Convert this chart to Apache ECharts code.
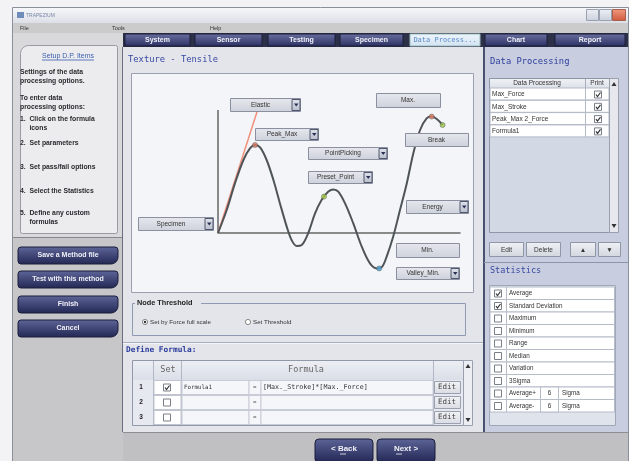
<!DOCTYPE html>
<html>
<head>
<meta charset="utf-8">
<title>Texture - Tensile</title>
<script src="https://cdn.jsdelivr.net/npm/echarts@6/dist/echarts.min.js"></script>
<style>
html, body { margin: 0; padding: 0; background: #f3f3f5; }
#main { width: 629px; height: 461px; }
</style>
</head>
<body>
<div id="main"></div>
<script>
// 曲线数据
var curveX = [0, 3.6, 7.0, 10.5, 13.2, 15.3, 17.4, 20.1, 22.9, 25.6, 28.4, 30.4, 32.5, 34.6, 37.3, 40.1, 42.8, 45.6, 47.7, 49.7, 52.5, 55.9, 59.4, 62.8, 65.6, 67.6, 69.7, 72.4, 75.2, 78.0, 80.7, 83.5, 86.2, 88.3, 90.4, 92.8];
var curveY = [0, 11.5, 24.8, 36.5, 42.3, 44.0, 42.8, 36.5, 26.5, 14.8, 3.2, -3.5, -6.5, -6.0, 0, 9.8, 16.5, 20.7, 21.8, 20.7, 14.8, 4.8, -6.8, -15.2, -17.7, -17.2, -11.8, -1.8, 11.5, 24.8, 39.8, 51.5, 57.3, 58.2, 57.0, 54.0];
var elasticX = [0, 16.1];
var elasticY = [0, 60.5];
var axisTop = 61.5;
var markX = [15.3, 43.8, 66.6, 88.3, 92.8];
var markY = [44.0, 18.2, -17.7, 58.2, 54.0];
var markKind = ['peak', 'pick', 'valley', 'peak', 'break'];

// texts
var tabLabels = ['System', 'Sensor', 'Testing', 'Specimen', 'Data Process...', 'Chart', 'Report'];
var menuLabels = ['File', 'Tools', 'Help'];
var chartBtnLabels = ['Elastic', 'Peak_Max', 'PointPicking', 'Preset_Point', 'Max.', 'Break', 'Energy', 'Specimen', 'Min.', 'Valley_Min.'];
var helpLines = ['Settings of the data', 'processing options.', 'To enter data', 'processing options:', '1.  Click on the formula', '     icons', '2.  Set parameters', '3.  Set pass/fail options', '4.  Select the Statistics', '5.  Define any custom', '     formulas'];
var sideBtnLabels = ['Save a Method file', 'Test with this method', 'Finish', 'Cancel'];
var dpItems = ['Max_Force', 'Max_Stroke', 'Peak_Max 2_Force', 'Formula1'];
var statItems = ['Average', 'Standard Deviation', 'Maximum', 'Minimum', 'Range', 'Median', 'Variation', '3Sigma', 'Average+', 'Average-'];
var statChecked = [true, true, false, false, false, false, false, false, false, false];
var formulaNo = ['1', '2', '3'];
var formulaSet = [true, false, false];
var formulaName = ['Formula1', '', ''];
var formulaText = ['[Max._Stroke]*[Max._Force]', '', ''];

// layout
var tabPos = [[125, 190], [195, 262], [268, 335], [340, 403], [410, 480], [485, 547], [555, 625]];
var menuPos = [20, 112, 210];
var chartBtnPos = [
    [230, 98, 70, 13, 1], [255, 128, 63, 12, 1], [308, 147, 79, 12, 1], [308, 171, 64, 12, 1],
    [376, 93, 64, 14, 0], [405, 133, 63, 13, 0], [406, 200, 62, 13, 1], [138, 217, 75, 13, 1],
    [396, 243, 63, 14, 0], [396, 267, 63, 12, 1]
];
var helpPosY = [72, 81, 98, 107, 119, 128, 143, 167, 191, 213, 222];
var sideBtnY = [247, 271, 296, 320];

var SANS = 'Liberation Sans, Arial, sans-serif';
var MONO = 'DejaVu Sans Mono, monospace';

function grad(c1, c2) {
    return new echarts.graphic.LinearGradient(0, 0, 0, 1, [{offset: 0, color: c1}, {offset: 1, color: c2}]);
}
function R(x, y, w, h, fill, stroke, z, r) {
    return {type: 'rect', z: z || 0, silent: true,
        shape: {x: x, y: y, width: w, height: h, r: r || 0},
        style: {fill: fill || 'none', stroke: stroke || null, lineWidth: 1}};
}
function T(x, y, s, o) {
    o = o || {};
    return {type: 'text', z: o.z || 0, silent: true, x: x, y: y,
        style: {text: s, fill: o.color || '#222', fontSize: o.size || 6, fontFamily: o.family || SANS,
            fontWeight: o.weight || 'normal', align: o.align || 'left', verticalAlign: 'middle'}};
}
function L(x1, y1, x2, y2, stroke, w, z) {
    return {type: 'line', z: z || 0, silent: true, shape: {x1: x1, y1: y1, x2: x2, y2: y2},
        style: {stroke: stroke, lineWidth: w || 1}};
}
function P(points, fill, z) {
    return {type: 'polygon', z: z || 0, silent: true, shape: {points: points}, style: {fill: fill}};
}
function checkbox(x, y, on, z) {
    var out = [R(x + 0.5, y + 0.5, 7, 7, '#fff', '#7a7f8a', z)];
    if (on) {
        out.push({type: 'polyline', z: z || 0, silent: true,
            shape: {points: [[x + 2, y + 4], [x + 3.5, y + 6], [x + 6.5, y + 2]]},
            style: {stroke: '#333', lineWidth: 1.2, fill: 'none'}});
    }
    return out;
}

var g = [];
// window frame
g.push(R(12.5, 7.5, 616, 454, '#d6d8de', '#8a8f9c'));
g.push(R(13, 8, 615, 15, grad('#f6f7fa', '#dcdfe7')));
g.push(R(17, 12, 7, 6, '#6f8cba'));
g.push(T(26, 15.5, 'TRAPEZIUM', {size: 5, color: '#7a88a6'}));
g.push(R(586.5, 9.5, 12, 11, grad('#eef1f6', '#c9cfdb'), '#9aa2b2'));
g.push(R(599.5, 9.5, 12, 11, grad('#eef1f6', '#c9cfdb'), '#9aa2b2'));
g.push(R(612.5, 9.5, 13, 11, grad('#f09a80', '#d0583a'), '#a8604c'));
// menu
g.push(R(13, 23, 615, 10, '#cbcbcc'));
menuLabels.forEach(function (m, i) { g.push(T(menuPos[i], 28, m, {size: 5.5, color: '#333'})); });
// tab bar
g.push(R(123, 33, 505, 14, '#2c3048'));
tabLabels.forEach(function (t, i) {
    var a = tabPos[i][0], b = tabPos[i][1];
    var sel = i === 4;
    g.push(R(a, 34, b - a, 12, sel ? grad('#eef5fb', '#d2e3f2') : grad('#6a70a0', '#2b3062'), sel ? '#9bb' : '#1c1f38'));
    g.push(T((a + b) / 2, 40.5, t, {size: 7, align: 'center', color: sel ? '#5a8ac8' : '#f2f2f8', weight: sel ? 'normal' : 'bold',
        family: sel ? MONO : SANS}));
});
// left help panel
g.push(R(13, 33, 110, 204, '#d9d9dc'));
g.push(R(20.5, 45.5, 97, 188, '#ececee', '#9a9aa0', 0, [8, 2, 2, 2]));
g.push(T(68, 56, 'Setup D.P. Items', {size: 7, align: 'center', color: '#3a5fb0'}));
g.push(L(42, 60, 94, 60, '#3a5fb0', 0.8));
helpLines.forEach(function (s, i) { g.push(T(20, helpPosY[i], s, {size: 6.8, color: '#2a2a2e', weight: 'bold'})); });
// left lower panel with buttons
g.push(R(13, 237, 110, 224, '#c7c7c9'));
g.push(L(13, 237.5, 123, 237.5, '#86868c'));
sideBtnLabels.forEach(function (s, i) {
    var y = sideBtnY[i];
    g.push(R(18, y, 100, 17, grad('#5e6699', '#222753'), '#1a1d3a', 0, [3, 3, 7, 3]));
    g.push(T(68, y + 8.5, s, {size: 7, align: 'center', color: '#f0f0f6', weight: 'bold'}));
});
// center panel
g.push(R(123, 47, 360, 385, '#e3e5eb'));
g.push(L(122.5, 47, 122.5, 432, '#6a6e7e'));
g.push(T(128, 60, 'Texture - Tensile', {size: 8.8, color: '#3848a0', family: MONO}));
g.push(R(131.5, 73.5, 342, 219, '#f4f5f8', '#9aa0ae'));
// chart buttons (drawn over the curve)
chartBtnLabels.forEach(function (s, i) {
    var p = chartBtnPos[i], x = p[0], y = p[1], w = p[2], h = p[3];
    g.push(R(x + 0.5, y + 0.5, w, h, grad('#e6e8ee', '#cdd1da'), '#8a90a0', 10));
    g.push(T(x + (p[4] ? (w - 9) / 2 : w / 2), y + h / 2 + 0.5, s, {size: 6.5, align: 'center', color: '#333', z: 11}));
    if (p[4]) {
        g.push(R(x + w - 8, y + 1.5, 8, h - 2, grad('#dfe2ea', '#b9bfcc'), '#50566e', 11));
        g.push(P([[x + w - 6, y + h / 2 - 1], [x + w - 1.5, y + h / 2 - 1], [x + w - 3.75, y + h / 2 + 2]], '#2a2f55', 12));
    }
});
// node threshold
g.push(R(132.5, 303.5, 333, 32, 'none', '#8e9bb2'));
g.push(R(135, 299, 66, 8, '#e3e5eb'));
g.push(T(137, 303, 'Node Threshold', {size: 7.3, weight: 'bold', color: '#222'}));
g.push({type: 'circle', silent: true, shape: {cx: 145, cy: 322, r: 2.6}, style: {fill: '#fff', stroke: '#888'}});
g.push({type: 'circle', silent: true, shape: {cx: 145, cy: 322, r: 1.2}, style: {fill: '#333'}});
g.push(T(150, 322, 'Set by Force full scale', {size: 6.2, color: '#333'}));
g.push({type: 'circle', silent: true, shape: {cx: 248, cy: 322, r: 2.6}, style: {fill: '#fff', stroke: '#888'}});
g.push(T(253, 322, 'Set Threshold', {size: 6.2, color: '#333'}));
g.push(L(123, 342.5, 483, 342.5, '#a6adbd'));
g.push(L(123, 343.5, 483, 343.5, '#f4f6fa'));
g.push(T(126, 350, 'Define Formula:', {size: 7.8, weight: 'bold', color: '#2a3a9a', family: MONO}));
// formula table
g.push(R(132.5, 360.5, 331, 65, '#e6e9f0', '#9098aa'));
g.push(R(133, 361, 330, 19, grad('#eceef3', '#dadee7')));
g.push(T(168, 370, 'Set', {size: 8.5, align: 'center', color: '#666', family: MONO}));
g.push(T(306, 370, 'Formula', {size: 8.5, align: 'center', color: '#666', family: MONO}));
g.push(L(153.5, 361, 153.5, 425, '#b0b6c4'));
g.push(L(181.5, 361, 181.5, 425, '#b0b6c4'));
g.push(L(433.5, 361, 433.5, 425, '#b0b6c4'));
formulaNo.forEach(function (n, i) {
    var y = 380 + 15 * i;
    g.push(R(154, y + 0.5, 27, 14, '#fff', '#c0c5d0'));
    g.push(R(182, y + 0.5, 67, 14, '#f5f6f9', '#c8ccd6'));
    g.push(R(249, y + 0.5, 12, 14, '#f5f6f9', '#c8ccd6'));
    g.push(R(261, y + 0.5, 172, 14, '#f5f6f9', '#c8ccd6'));
    g.push(T(141, y + 7.5, n, {size: 6.5, weight: 'bold', align: 'center', color: '#222'}));
    checkbox(163, y + 3.5, formulaSet[i]).forEach(function (e) { g.push(e); });
    g.push(T(184, y + 7.5, formulaName[i], {size: 5.8, color: '#333', family: MONO}));
    g.push(T(253, y + 7.5, '=', {size: 6, color: '#555'}));
    g.push(T(263, y + 7.5, formulaText[i], {size: 6.7, color: '#333', family: MONO}));
    g.push(R(434.5, y + 1.5, 26, 12, grad('#f2f3f6', '#d9dce3'), '#9aa0ad'));
    g.push(T(447, y + 7.5, 'Edit', {size: 7.5, align: 'center', color: '#444', family: MONO}));
});
g.push(R(463.5, 360.5, 9, 65, '#eceef3', '#9aa0ad'));
g.push(P([[465.5, 368], [470.5, 368], [468, 364]], '#333'));
g.push(P([[465.5, 418], [470.5, 418], [468, 422]], '#333'));
// bottom bar
g.push(R(123, 432, 505, 29, '#c0c0c2'));
g.push(L(123, 432.5, 628, 432.5, '#8e8e94'));
g.push(R(315, 439, 58, 24, grad('#5d6598', '#1f2450'), '#1a1d3a', 0, 4));
g.push(T(344, 449, '< Back', {size: 8, align: 'center', color: '#f2f2f8', weight: 'bold'}));
g.push(L(340, 454, 346, 454, '#f2f2f8', 0.8));
g.push(R(377, 439, 58, 24, grad('#5d6598', '#1f2450'), '#1a1d3a', 0, 4));
g.push(T(406, 449, 'Next >', {size: 8, align: 'center', color: '#f2f2f8', weight: 'bold'}));
g.push(L(396, 454, 402, 454, '#f2f2f8', 0.8));
// right panel
g.push(R(483, 47, 145, 385, '#c8cedf'));
g.push(L(484, 47, 484, 432, '#4a5070', 2));
g.push(T(490, 62, 'Data Processing', {size: 8.8, color: '#2c3d9c', family: MONO}));
g.push(R(489.5, 78.5, 120, 154, '#d3d8e5', '#8e96a8'));
g.push(R(490, 79, 119, 9, grad('#eef0f4', '#dde1e9')));
g.push(T(537, 83.5, 'Data Processing', {size: 6.5, align: 'center', color: '#333'}));
g.push(T(597, 83.5, 'Print', {size: 6.5, align: 'center', color: '#333'}));
g.push(L(585.5, 79, 585.5, 88, '#a8aebb'));
dpItems.forEach(function (s, i) {
    var y = 88 + 12.3 * i;
    g.push(R(490, y, 95.5, 12, '#fff', '#b3b9c6'));
    g.push(R(585.5, y, 23.5, 12, '#fff', '#b3b9c6'));
    g.push(T(492, y + 6.5, s, {size: 6.5, color: '#333'}));
    checkbox(594, y + 2.5, true).forEach(function (e) { g.push(e); });
});
g.push(R(609.5, 78.5, 9, 154, '#e6e8ee', '#9aa0ad'));
g.push(P([[611.5, 86], [616.5, 86], [614, 82]], '#333'));
g.push(P([[611.5, 224], [616.5, 224], [614, 228]], '#333'));
[['Edit', 489, 34], ['Delete', 526, 34], ['\u25B2', 570, 25], ['\u25BC', 598, 22]].forEach(function (b) {
    g.push(R(b[1] + 0.5, 242.5, b[2], 14, grad('#f0f2f6', '#d2d6de'), '#8e96a8'));
    g.push(T(b[1] + b[2] / 2 + 0.5, 250, b[0], {size: 6.5, align: 'center', color: '#333'}));
});
g.push(L(484, 262.5, 628, 262.5, '#8c94aa'));
g.push(T(490, 271, 'Statistics', {size: 8.5, color: '#3848a0', family: MONO}));
g.push(R(489.5, 285.5, 126, 140, '#dfe3ec', '#a0a8b8'));
statItems.forEach(function (s, i) {
    var y = 287 + 12.5 * i;
    g.push(R(490, y, 16.5, 12.5, '#fff', '#b6bcc8'));
    g.push(R(506.5, y, 108, 12.5, '#fff', '#b6bcc8'));
    checkbox(494, y + 2.5, statChecked[i]).forEach(function (e) { g.push(e); });
    g.push(T(509, y + 6.5, s, {size: 6.3, color: '#333'}));
    if (i >= 8) {
        g.push(R(540.5, y, 18, 12.5, '#fff', '#b6bcc8'));
        g.push(T(549.5, y + 6.5, '6', {size: 6.3, align: 'center', color: '#333'}));
        g.push(T(562, y + 6.5, 'Sigma', {size: 6.3, color: '#333'}));
    }
});

var kindColor = {peak: '#e07a62', pick: '#a8d040', valley: '#4aa6d8', 'break': '#9cc84a'};
var markData = markX.map(function (x, i) {
    return {value: [x, markY[i]], itemStyle: {color: kindColor[markKind[i]], borderColor: '#555', borderWidth: 0.6}};
});

var myChart = echarts.init(document.getElementById('main'), null, {renderer: 'canvas'});
var option = {
    animation: false,
    grid: {left: 218, top: 103, width: 242, height: 170},
    xAxis: {
        type: 'value', min: 0, max: 100,
        axisLine: {show: true, onZero: true, lineStyle: {color: '#666', width: 1.5}},
        axisTick: {show: false}, axisLabel: {show: false}, splitLine: {show: false}
    },
    yAxis: {
        type: 'value', min: -20, max: 65,
        axisLine: {show: false}, axisTick: {show: false}, axisLabel: {show: false}, splitLine: {show: false}
    },
    graphic: {elements: g},
    series: [{
        type: 'line', symbol: 'none', silent: true,
        data: [[0, 0], [0, axisTop]],
        lineStyle: {color: '#666', width: 1.5}
    }, {
        type: 'line', symbol: 'none', silent: true,
        data: [[elasticX[0], elasticY[0]], [elasticX[1], elasticY[1]]],
        lineStyle: {color: '#f0907a', width: 1.5}
    }, {
        type: 'line', symbol: 'none', silent: true, smooth: 0.35,
        data: curveX.map(function (x, i) { return [x, curveY[i]]; }),
        lineStyle: {color: '#4f5458', width: 2}
    }, {
        type: 'scatter', symbolSize: 5, silent: true, z: 4,
        data: markData
    }]
};
if (option && typeof option === "object") {
    myChart.setOption(option);
}
</script>
</body>
</html>
